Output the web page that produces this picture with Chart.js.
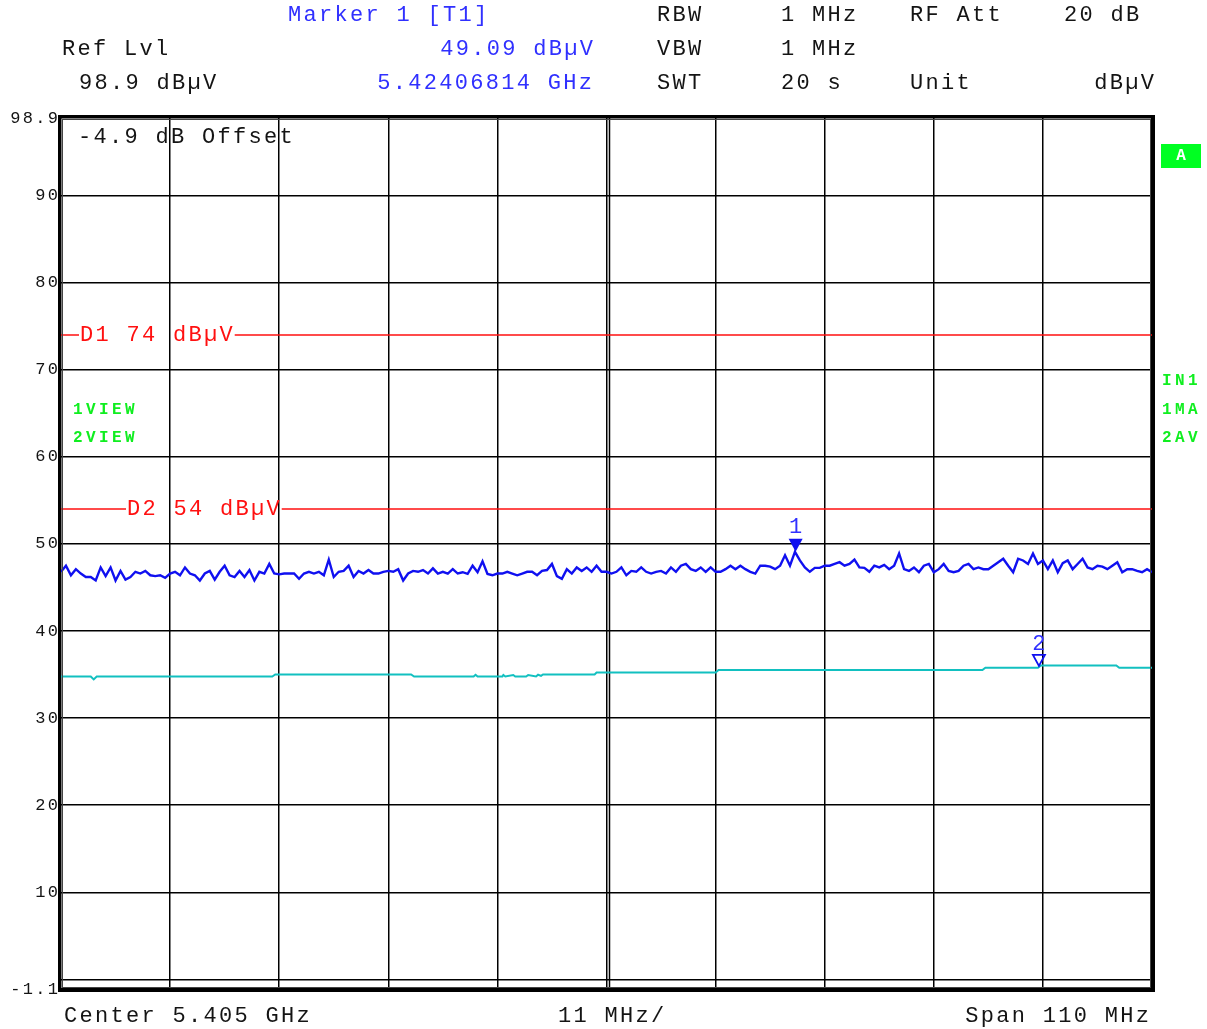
<!DOCTYPE html>
<html>
<head>
<meta charset="utf-8">
<script src="https://cdn.jsdelivr.net/npm/chart.js@4.4.0/dist/chart.umd.min.js"></script>
<style>
  html, body { margin: 0; padding: 0; background: #fff; }
</style>
</head>
<body>
<canvas id="spectrum" width="1207" height="1029"></canvas>
<script>
// sweep: 5.35 .. 5.46 GHz, one point every 0.5 MHz (values in MHz)
const startMHz = 5350;
const stopMHz = 5460;
const stepMHz = 0.5;

const xTicks = [5350, 5361, 5372, 5383, 5394, 5405, 5416, 5427, 5438, 5449, 5460];
const yTicks = [-1.1, 0, 10, 20, 30, 40, 50, 60, 70, 80, 90, 98.9];

// trace 1 (max hold, blue), dBuV
const viewTrace = [
    46.8, 47.5, 46.4, 47.1, 46.6, 46.2, 46.2, 45.8, 47.3, 46.3,
    47.3, 45.8, 46.9, 45.9, 46.2, 46.8, 46.6, 46.9, 46.4, 46.3,
    46.4, 46.1, 46.6, 46.8, 46.4, 47.3, 46.6, 46.4, 45.8, 46.6,
    46.9, 45.9, 46.8, 47.5, 46.4, 46.2, 46.9, 46.2, 47.0, 45.8,
    46.8, 46.6, 47.7, 46.6, 46.5, 46.6, 46.6, 46.6, 46.0, 46.6,
    46.8, 46.6, 46.8, 46.4, 48.2, 46.2, 46.8, 46.9, 47.5, 46.2,
    46.9, 46.6, 47.0, 46.6, 46.6, 46.8, 46.9, 46.8, 47.1, 45.8,
    46.6, 46.9, 46.8, 47.0, 46.6, 47.2, 46.6, 46.8, 46.6, 47.1,
    46.6, 46.75, 46.56, 47.5, 46.75, 48.0, 46.56, 46.4, 46.6, 46.6,
    46.8, 46.6, 46.4, 46.6, 46.8, 46.8, 46.4, 46.9, 47.0, 47.7,
    46.3, 46.0, 47.1, 46.6, 47.3, 46.9, 47.3, 46.8, 47.5, 46.8,
    46.8, 46.6, 46.8, 47.3, 46.4, 46.9, 46.8, 47.3, 46.8, 46.6,
    46.8, 46.9, 46.6, 47.3, 46.8, 47.5, 47.7, 47.1, 46.9, 47.3,
    46.8, 47.3, 46.8, 46.8, 47.1, 47.5, 47.1, 47.5, 47.1, 46.8,
    46.6, 47.5, 47.5, 47.4, 47.1, 47.5, 48.7, 47.5, 49.09, 48.1,
    47.3, 46.8, 47.25, 47.25, 47.5, 47.5, 47.7, 47.9, 47.5, 47.7,
    48.2, 47.3, 47.25, 46.8, 47.5, 47.3, 47.6, 47.1, 47.5, 48.9,
    47.1, 46.9, 47.3, 46.75, 47.5, 47.7, 46.75, 47.1, 47.7, 46.9,
    46.75, 46.9, 47.5, 47.7, 47.1, 47.3, 47.1, 47.1, 47.5, 47.9,
    48.3, 47.5, 46.75, 48.3, 48.1, 47.7, 48.9, 47.7, 48.1, 47.1,
    48.1, 46.75, 47.8, 48.1, 47.1, 47.7, 48.3, 47.3, 47.1, 47.5,
    47.4, 47.1, 47.5, 47.9, 46.75, 47.1, 47.1, 46.9, 46.75, 47.1, 46.75,
];

// trace 2 (average, cyan): breakpoints of the nearly flat curve
const avFreq = [
    5350, 5353.0, 5353.3, 5353.6, 5371.3, 5371.6, 5385.3, 5385.6,
    5391.6, 5391.8, 5392.0, 5394.5, 5394.6, 5394.8, 5395.6, 5395.8,
    5396.9, 5397.1, 5397.9, 5398.1, 5398.4, 5398.6, 5403.8, 5404.0,
    5416.0, 5416.3, 5442.9, 5443.2, 5448.5, 5448.8, 5456.4, 5456.7, 5460,
];
const avLevel = [
    34.78, 34.78, 34.45, 34.78, 34.78, 35.01, 35.01, 34.78,
    34.78, 34.98, 34.78, 34.78, 34.95, 34.78, 34.95, 34.78,
    34.78, 34.95, 34.78, 34.98, 34.85, 35.01, 35.01, 35.24,
    35.24, 35.52, 35.52, 35.78, 35.78, 36.05, 36.05, 35.78, 35.78,
];

const displayLineNames = ['D1', 'D2'];
const displayLineLevels = [74, 54];

const markerNames = ['1', '2'];
const markerFreq = [5424.06814, 5448.6];
const markerLevel = [49.09, 36.0];

const viewPoints = viewTrace.map((v, i) => ({ x: startMHz + i * stepMHz, y: v }));
const avPoints = avFreq.map((f, i) => ({ x: f, y: avLevel[i] }));

const FONT = '"Liberation Mono", "DejaVu Sans Mono", monospace';
const INK = '#141414';
const BLUE_TXT = '#3030ff';
const RED = '#ff1010';
const GREEN = '#10ee20';

function text(ctx, s, x, y, o = {}) {
    const size = o.size ?? 22;
    const spacing = o.spacing ?? 2.3;
    const align = o.align ?? 'left';
    ctx.save();
    ctx.font = `${o.weight ?? 'normal'} ${size}px ${FONT}`;
    ctx.letterSpacing = spacing + 'px';
    ctx.fillStyle = o.color ?? INK;
    ctx.textAlign = align;
    ctx.textBaseline = 'middle';
    let px = x;
    if (align === 'right') px += spacing;
    if (align === 'center') px += spacing / 2;
    ctx.fillText(s, px, y);
    const w = ctx.measureText(s).width - spacing;
    ctx.restore();
    return w;
}

const analyzerDecor = {
    id: 'analyzerDecor',
    beforeDatasetsDraw(chart) {
        const { ctx, chartArea: a, scales: { x, y } } = chart;
        // second line of the centre division
        ctx.save();
        ctx.strokeStyle = '#000';
        ctx.lineWidth = 1.5;
        const cx = x.getPixelForValue(5405) + 3;
        ctx.beginPath();
        ctx.moveTo(cx, a.top);
        ctx.lineTo(cx, a.bottom);
        ctx.stroke();
        ctx.restore();

        // display lines with their labels
        const labelStart = [80, 127];
        displayLineLevels.forEach((lvl, i) => {
            const py = y.getPixelForValue(lvl);
            const label = `${displayLineNames[i]} ${lvl} dBµV`;
            const w = text(ctx, label, labelStart[i], py, { color: RED });
            ctx.save();
            ctx.strokeStyle = RED;
            ctx.lineWidth = 1.5;
            ctx.beginPath();
            ctx.moveTo(a.left, py);
            ctx.lineTo(labelStart[i] - 1, py);
            ctx.moveTo(labelStart[i] + w + 2, py);
            ctx.lineTo(a.right, py);
            ctx.stroke();
            ctx.restore();
        });
    },
    afterDraw(chart) {
        const { ctx, chartArea: a, scales: { x, y } } = chart;

        // frame
        ctx.save();
        ctx.strokeStyle = '#000';
        ctx.lineWidth = 3;
        ctx.strokeRect(a.left - 1.5, a.top - 1.5, a.right - a.left + 3, a.bottom - a.top + 3);
        ctx.lineWidth = 1;
        ctx.strokeStyle = '#444';
        ctx.strokeRect(a.left + 1.5, a.top + 1.5, a.right - a.left - 3, a.bottom - a.top - 3);
        ctx.restore();

        // level labels
        yTicks.forEach(v => {
            if (v === 0) return;
            text(ctx, String(v), a.left - 3, y.getPixelForValue(v), { size: 17, spacing: 2.3, align: 'right' });
        });

        // markers
        markerFreq.forEach((f, i) => {
            const mx = x.getPixelForValue(f);
            const my = y.getPixelForValue(markerLevel[i]);
            ctx.save();
            ctx.fillStyle = '#1010f0';
            ctx.strokeStyle = '#1010f0';
            ctx.lineWidth = 1.8;
            ctx.beginPath();
            if (i === 0) {
                ctx.moveTo(mx - 7, my - 13);
                ctx.lineTo(mx + 7, my - 13);
                ctx.lineTo(mx, my);
                ctx.closePath();
                ctx.fill();
            } else {
                ctx.moveTo(mx - 6, my - 11);
                ctx.lineTo(mx + 6, my - 11);
                ctx.lineTo(mx, my);
                ctx.closePath();
                ctx.stroke();
            }
            ctx.restore();
            text(ctx, markerNames[i], mx, my - (i === 0 ? 25 : 22), { color: BLUE_TXT, align: 'center', spacing: 0 });
        });

        // header
        text(ctx, 'Marker 1 [T1]', 288, 15, { color: BLUE_TXT });
        text(ctx, 'Ref Lvl', 62, 49);
        text(ctx, `${markerLevel[0].toFixed(2)} dBµV`, 593, 49, { color: BLUE_TXT, align: 'right' });
        text(ctx, '98.9 dBµV', 79, 83);
        text(ctx, `${(markerFreq[0] / 1000).toFixed(8)} GHz`, 592, 83, { color: BLUE_TXT, align: 'right' });
        text(ctx, 'RBW', 657, 15);
        text(ctx, '1 MHz', 781, 15);
        text(ctx, 'RF Att', 910, 15);
        text(ctx, '20 dB', 1064, 15);
        text(ctx, 'VBW', 657, 49);
        text(ctx, '1 MHz', 781, 49);
        text(ctx, 'SWT', 657, 83);
        text(ctx, '20 s', 781, 83);
        text(ctx, 'Unit', 910, 83);
        text(ctx, 'dBµV', 1154, 83, { align: 'right' });

        text(ctx, '-4.9 dB Offset', 78, 137);

        // side annotations
        const g = { color: GREEN, size: 16, weight: 'bold', spacing: 3.4 };
        text(ctx, '1VIEW', 73, 410, g);
        text(ctx, '2VIEW', 73, 438, g);
        text(ctx, 'IN1', 1162, 381, g);
        text(ctx, '1MA', 1162, 410, g);
        text(ctx, '2AV', 1162, 438, g);
        ctx.save();
        ctx.fillStyle = '#00ff22';
        ctx.fillRect(1161, 144, 40, 24);
        ctx.restore();
        text(ctx, 'A', 1181, 156, { color: '#fff', size: 16, weight: 'bold', align: 'center', spacing: 0 });

        // footer
        text(ctx, 'Center 5.405 GHz', 64, 1016);
        text(ctx, '11 MHz/', 558, 1016);
        text(ctx, 'Span 110 MHz', 1149, 1016, { align: 'right' });
    },
};

new Chart(document.getElementById('spectrum'), {
    type: 'line',
    data: {
        datasets: [
            {
                label: 'AV',
                data: avPoints,
                borderColor: '#12c0c0',
                borderWidth: 2,
                pointRadius: 0,
                tension: 0,
            },
            {
                label: 'VIEW',
                data: viewPoints,
                borderColor: '#1010f0',
                borderWidth: 2.4,
                pointRadius: 0,
                tension: 0,
            },
        ],
    },
    options: {
        responsive: false,
        animation: false,
        devicePixelRatio: 1,
        layout: { padding: { top: 118, right: 55, left: 0, bottom: 0 } },
        plugins: { legend: { display: false }, tooltip: { enabled: false } },
        scales: {
            x: {
                type: 'linear',
                min: startMHz,
                max: stopMHz,
                afterBuildTicks: s => { s.ticks = xTicks.map(v => ({ value: v })); },
                afterFit: s => { s.height = 40; },
                ticks: { display: false },
                grid: { color: '#000', lineWidth: 1.5, drawTicks: false },
                border: { display: false },
            },
            y: {
                type: 'linear',
                min: -1.1,
                max: 98.9,
                afterBuildTicks: s => { s.ticks = yTicks.map(v => ({ value: v })); },
                afterFit: s => { s.width = 61; },
                ticks: { display: false },
                grid: { color: '#000', lineWidth: 1.5, drawTicks: false },
                border: { display: false },
            },
        },
    },
    plugins: [analyzerDecor],
});
</script>
</body>
</html>
